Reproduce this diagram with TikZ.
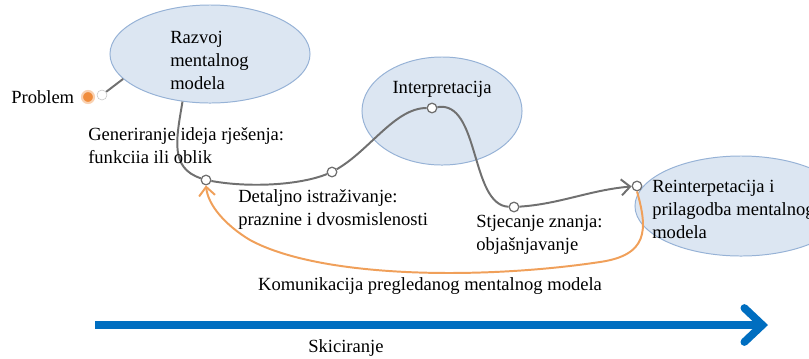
\documentclass[tikz,border=0pt]{standalone}
\usepackage{fontspec}
\setmainfont{Liberation Serif}
\usetikzlibrary{shapes.geometric,arrows.meta}
\definecolor{bubblefill}{RGB}{220,230,242}
\definecolor{bubbleline}{RGB}{150,178,214}
\definecolor{linegray}{RGB}{112,112,112}
\definecolor{feedorange}{RGB}{240,160,90}
\definecolor{dotorange}{RGB}{240,140,60}
\definecolor{sketchblue}{RGB}{0,110,192}
\begin{document}
\begin{tikzpicture}[x=0.025cm,y=-0.025cm,
    bubble/.style={ellipse,draw=bubbleline,fill=bubblefill,line width=0.7pt,inner sep=0pt},
    txt/.style={font=\fontsize{13.2}{16.3}\selectfont,align=left,inner sep=0pt,anchor=base west},
    knot/.style={circle,draw=linegray,fill=white,line width=0.9pt,inner sep=0pt,minimum size=0.24cm},
    flow/.style={draw=linegray,line width=1.4pt},
    feedback/.style={draw=feedorange,line width=1.4pt}]

    \useasboundingbox (0,0) rectangle (809,358);
    \clip (0,0) rectangle (809,358);

    \node[bubble,minimum width=5cm,minimum height=2.45cm] (razvoj) at (210,54) {};
    \node[bubble,minimum width=4cm,minimum height=2.7cm] (interp) at (442,111) {};
    \node[bubble,minimum width=5.3cm,minimum height=2.5cm] (reint) at (741,206) {};

    % multi-line texts: anchor sits on the last line
    \node[txt] (razvojtxt) at (170,89) {Razvoj\\mentalnog\\modela};
    \node[txt,anchor=base] (interptxt) at (442,93) {Interpretacija};
    \node[txt] (reinttxt) at (652,238) {Reinterpetacija i\\prilagodba mentalnog\\modela};

    \node[txt] (problem) at (11,103) {Problem};
    \node[circle,draw=linegray!40,fill=white,inner sep=0pt,minimum size=0.25cm] (k0) at (102,95) {};
    \node[circle,draw=dotorange!40,fill=dotorange,line width=1.5pt,inner sep=0pt,minimum size=0.3cm] (dot) at (88,97) {};

    \node[knot] (k1) at (206,180) {};
    \node[knot] (k2) at (332,172) {};
    \node[knot] (k3) at (432,108) {};
    \node[knot] (k4) at (514,207) {};
    \node[knot] (k5) at (637,186) {};

    \draw[flow] (k0) -- (razvoj.196);
    \draw[flow] (razvoj.240) .. controls (176,140) and (170,168) .. (k1);
    \draw[flow] (k1) .. controls (250,188) and (300,185) .. (k2);
    \draw[flow] (k2) .. controls (370,150) and (395,108) .. (k3);
    \draw[flow] (k3) .. controls (480,100) and (470,205) .. (k4);
    \draw[flow,-{Straight Barb[length=2.2mm,width=4mm]}] (k4) .. controls (560,204) and (590,190) .. (k5);

    \draw[feedback,-{Straight Barb[length=2.2mm,width=4mm]}] (k5.south) .. controls (648,230) and (648,255) .. (600,262)
        .. controls (480,280) and (320,278) .. (250,240) .. controls (225,225) and (208,205) .. (k1.south);

    \node[txt] (gen) at (88,163) {Generiranje ideja rješenja:\\funkciia ili oblik};
    \node[txt] (det) at (238,225) {Detaljno istraživanje:\\praznine i dvosmislenosti};
    \node[txt] (stj) at (476,250) {Stjecanje znanja:\\objašnjavanje};
    \node[txt,anchor=base] (kom) at (430,290) {Komunikacija pregledanog mentalnog modela};

    \coordinate (sk0) at (95,325);
    \coordinate (sk1) at (768,325);
    \draw[sketchblue,line width=5.5pt,-{Straight Barb[length=4.5mm,width=8.5mm,line cap=round]}] (sk0) -- (sk1);
    \node[txt] (skic) at (308,352) {Skiciranje};
\end{tikzpicture}
\end{document}
